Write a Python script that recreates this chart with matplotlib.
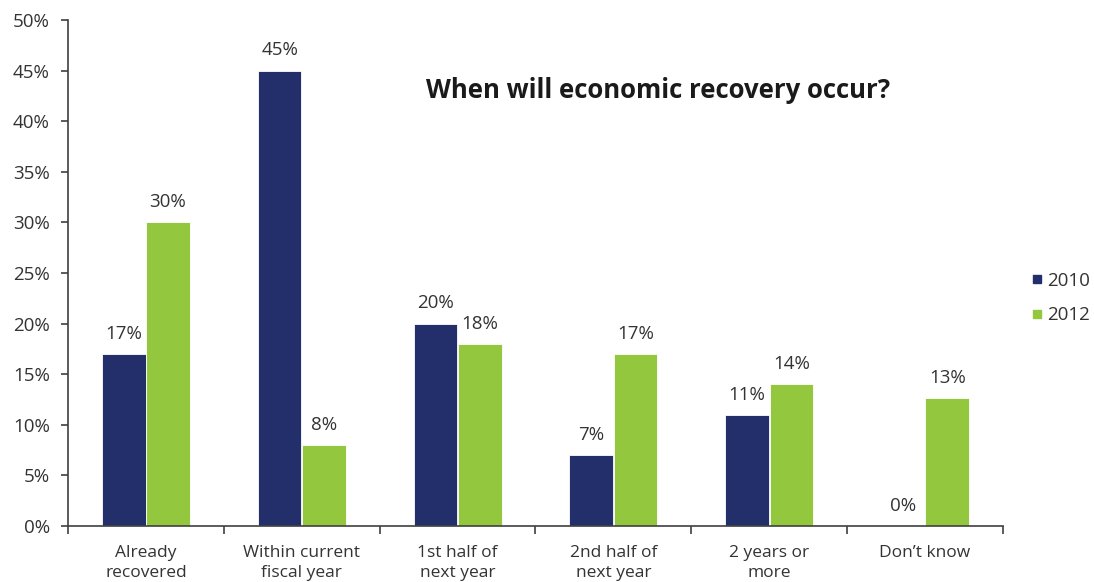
import numpy as np
import matplotlib.pyplot as plt
from matplotlib.lines import Line2D

plt.rcParams['font.family'] = ['Open Sans', 'DejaVu Sans']

# --- Дані ---
categories = ['Already\nrecovered', 'Within current\nfiscal year', '1st half of\nnext year',
              '2nd half of\nnext year', '2 years or\nmore', 'Don\u2019t know']
series_names = ['2010', '2012']
values_2010 = [17, 45, 20, 7, 11, 0]
values_2012 = [30, 8, 18, 17, 14, 12.6]
yticks = [0, 5, 10, 15, 20, 25, 30, 35, 40, 45, 50]

navy = '#232F6B'
green = '#93C83E'
text_col = '#333333'

fig = plt.figure(figsize=(10.94, 5.82), dpi=100)
ax = fig.add_axes([68 / 1094, 1 - 526 / 582, (1003 - 68) / 1094, (526 - 20) / 582])

x = np.arange(len(categories))
w = 0.28
off = 0.142
b1 = ax.bar(x - off, values_2010, w, color=navy, edgecolor='white', linewidth=0.6)
b2 = ax.bar(x + off, values_2012, w, color=green, edgecolor='white', linewidth=0.6)

# подписи значений над столбцами
for bars, vals in ((b1, values_2010), (b2, values_2012)):
    for rect, v in zip(bars, vals):
        ax.annotate(f'{v:.0f}%', (rect.get_x() + rect.get_width() / 2, v),
                    xytext=(0, 8), textcoords='offset points',
                    ha='center', va='bottom', fontsize=13.5, color=text_col)

ax.set_xlim(-0.5, len(categories) - 0.5)
ax.set_ylim(0, 50)
ax.set_yticks(yticks)
ax.set_yticklabels([f'{t}%' for t in yticks], fontsize=13.5)

# категории по центру, засечки на границах групп
ax.set_xticks(x)
ax.set_xticklabels(categories, linespacing=1.3, fontsize=12.5)
ax.set_xticks(np.arange(-0.5, len(categories), 1), minor=True)
ax.tick_params(axis='x', which='major', length=0, pad=14)
ax.tick_params(axis='x', which='minor', length=6, width=1.2, color='#404040')
ax.tick_params(axis='y', length=5, width=1.2, color='#404040', pad=8)
ax.tick_params(labelcolor=text_col)

for s in ('top', 'right'):
    ax.spines[s].set_visible(False)
for s in ('left', 'bottom'):
    ax.spines[s].set_color('#404040')
    ax.spines[s].set_linewidth(1.2)

fig.text(658 / 1094, 1 - 90 / 582, 'When will economic recovery occur?',
         ha='center', va='center', fontsize=18.5, fontweight='bold', color='#1a1a1a')

handles = [Line2D([], [], marker='s', linestyle='none', markersize=5.5, color=c) for c in (navy, green)]
fig.legend(handles, series_names, loc='center left', bbox_to_anchor=(1031 / 1094, 1 - 298 / 582),
           frameon=False, fontsize=13.5, handlelength=0.6, handletextpad=0.25,
           borderpad=0, borderaxespad=0, labelspacing=0.9, labelcolor=text_col)

fig.savefig('out.png', dpi=100)
